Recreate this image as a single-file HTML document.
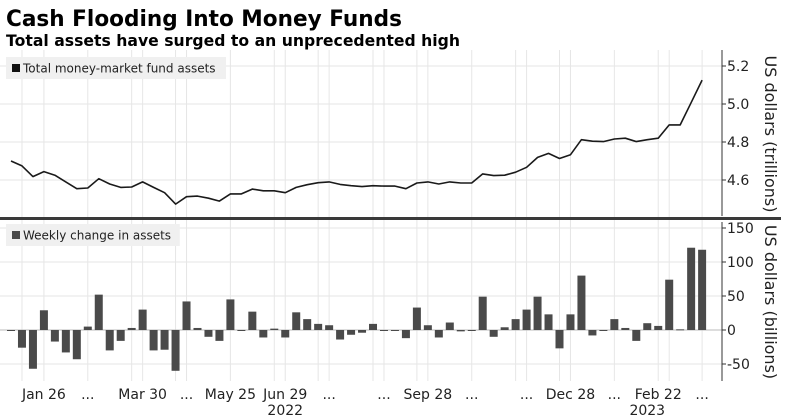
<!DOCTYPE html>
<html><head><meta charset="utf-8"><style>
html,body{margin:0;padding:0;background:#fff;}
svg{display:block;font-family:"DejaVu Sans","Liberation Sans",sans-serif;}
</style></head><body>
<svg id="chart" width="792" height="419" viewBox="0 0 792 419" xmlns="http://www.w3.org/2000/svg">
<text x="6" y="26" font-size="22" font-weight="bold" textLength="396" lengthAdjust="spacingAndGlyphs">Cash Flooding Into Money Funds</text>
<text x="6" y="46" font-size="16" font-weight="bold" textLength="454" lengthAdjust="spacingAndGlyphs">Total assets have surged to an unprecedented high</text>
<g id="grid"></g>
<g id="marks"></g>
<g id="axes"></g>
</svg>
<script>
const totalAssets = [4.70,4.674,4.618,4.644,4.625,4.59,4.554,4.558,4.607,4.579,4.561,4.563,4.59,4.561,4.533,4.473,4.512,4.515,4.504,4.489,4.527,4.527,4.552,4.543,4.543,4.533,4.561,4.575,4.586,4.59,4.577,4.57,4.565,4.57,4.568,4.568,4.554,4.584,4.59,4.579,4.59,4.584,4.584,4.632,4.623,4.625,4.641,4.667,4.719,4.74,4.713,4.733,4.812,4.804,4.802,4.816,4.82,4.802,4.812,4.82,4.89,4.89,5.007,5.126];
const weeklyChange = [0,-26,-57,29,-17,-33,-43,5,52,-30,-16,3,30,-30,-29,-60,42,3,-10,-16,45,-1,27,-11,2,-11,26,16,9,7,-14,-7,-4,9,-1,-1,-12,33,7,-11,11,-2,0,49,-10,4,16,30,49,23,-27,23,80,-8,-1,16,3,-16,10,6,74,1,121,118];
const topTicks = [4.6,4.8,5.0,5.2];
const bottomTicks = [-50,0,50,100,150];
const xLabelIdx = [3,7,12,16,20,25,29,34,38,42,47,51,55,59,63];
const xLabels = ["Jan 26","...","Mar 30","...","May 25","Jun 29","...","...","Sep 28","...","...","Dec 28","...","Feb 22","..."];
const gridIdx = [1,3,7,11,12,15,16,20,24,25,28,29,33,34,37,38,42,46,47,50,51,55,59,60,63];
const yearLabels = ["2022","2023"];
const yearIdx = [25,58];

const NS="http://www.w3.org/2000/svg";
const x0=11, step=10.97, axisX=722;
const xs=i=>x0+i*step;
const yTop=v=>180-(v-4.6)*190;
const yBot=v=>330-v*0.68;
function mk(tag,attrs,parent){const e=document.createElementNS(NS,tag);for(const k in attrs)e.setAttribute(k,attrs[k]);parent.appendChild(e);return e;}
const grid=document.getElementById('grid'),marks=document.getElementById('marks'),axes=document.getElementById('axes');

gridIdx.forEach(i=>{
  const l=mk('line',{x1:xs(i),x2:xs(i),y1:50,y2:381,stroke:'#e6e6e6','stroke-width':1},grid);
  
  
});
topTicks.forEach(v=>{
  const l=mk('line',{x1:0,x2:axisX,y1:yTop(v),y2:yTop(v),stroke:'#e6e6e6'},grid);
  
  
  const t=mk('line',{x1:axisX,x2:axisX+4,y1:yTop(v),y2:yTop(v),stroke:'#333'},axes);
  
  
  const tx=mk('text',{x:axisX+5,y:yTop(v)+5,'font-size':14,fill:'#222'},axes);
  tx.textContent=v.toFixed(1);
  
  
});
bottomTicks.forEach(v=>{
  const l=mk('line',{x1:0,x2:axisX,y1:yBot(v),y2:yBot(v),stroke:'#e6e6e6'},grid);
  
  
  const t=mk('line',{x1:axisX,x2:axisX+4,y1:yBot(v),y2:yBot(v),stroke:'#333'},axes);
  
  
  const tx=mk('text',{x:axisX+5,y:yBot(v)+5,'font-size':14,fill:'#222'},axes);
  tx.textContent=String(v).replace('-','-');
  
  
});
// zero line
const z=mk('line',{x1:0,x2:axisX,y1:yBot(0),y2:yBot(0),stroke:'#bbb'},grid);



// line
const pts=totalAssets.map((v,i)=>xs(i).toFixed(1)+','+yTop(v).toFixed(1)).join(' ');
const pl=mk('polyline',{points:pts,fill:'none',stroke:'#1a1a1a','stroke-width':1.6,'stroke-linejoin':'round'},marks);



// bars
weeklyChange.forEach((v,i)=>{
  const y1=yBot(Math.max(v,0)),y2=yBot(Math.min(v,0));
  const r=mk('rect',{x:xs(i)-4,y:y1,width:8,height:Math.max(y2-y1,1),fill:'#4a4a4a'},marks);
  
  
});

// axes lines
const a1=mk('line',{x1:axisX,x2:axisX,y1:50,y2:216,stroke:'#333'},axes);


const a2=mk('line',{x1:axisX,x2:axisX,y1:222,y2:381,stroke:'#333'},axes);


const dv=mk('rect',{x:0,y:217,width:781,height:3,fill:'#3a3a3a'},axes);



// axis titles
const t1=mk('text',{x:0,y:0,'font-size':16,fill:'#222','text-anchor':'middle',transform:'translate(765,134) rotate(90)'},axes);
t1.textContent='US dollars (trillions)';


const t2=mk('text',{x:0,y:0,'font-size':16,fill:'#222','text-anchor':'middle',transform:'translate(765,302) rotate(90)'},axes);
t2.textContent='US dollars (billions)';



// x labels
xLabels.forEach((s,k)=>{
  const t=mk('text',{x:xs(xLabelIdx[k]),y:399,'font-size':14,fill:'#222','text-anchor':'middle'},axes);
  t.textContent=s;
  
  
});
yearLabels.forEach((s,k)=>{
  const t=mk('text',{x:xs(yearIdx[k]),y:415,'font-size':14,fill:'#222','text-anchor':'middle'},axes);
  t.textContent=s;
  
  
});

// legends
function legend(y,label,name,color){
  const g=mk('g',{},axes);
  
  
  const w=label.length*6.6+22;
  mk('rect',{x:6,y:y,width:w,height:22,fill:'#f0f0f0'},g);
  mk('rect',{x:12,y:y+7,width:8,height:8,fill:color},g);
  const t=mk('text',{x:23,y:y+15.5,'font-size':12,fill:'#222'},g);
  t.textContent=label;
}
legend(57,'Total money-market fund assets','legend-total-assets','#111');
legend(224,'Weekly change in assets','legend-weekly-change','#4a4a4a');
</script>
</body></html>
